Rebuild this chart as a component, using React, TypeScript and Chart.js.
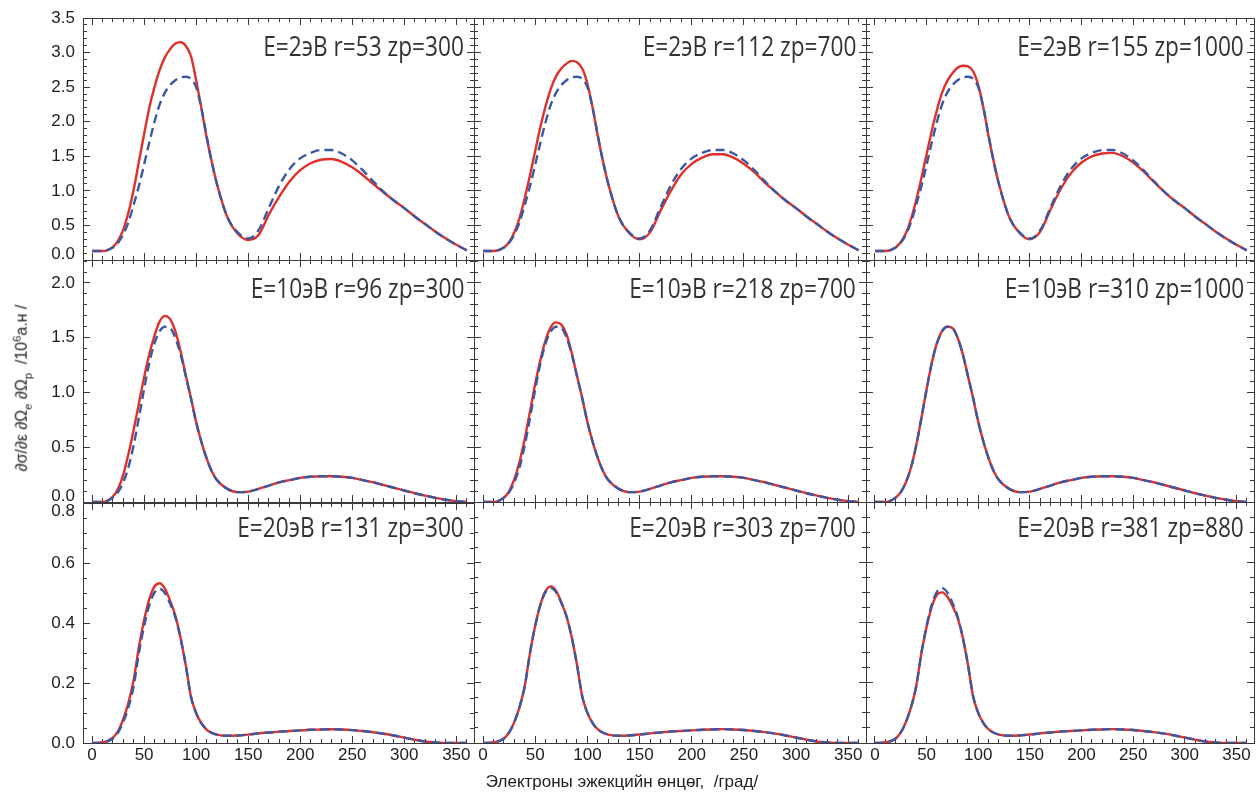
import React, { useEffect, useRef } from "react";
import { Chart, registerables } from "chart.js";

Chart.register(...registerables);

// ---------------- DATA ----------------
const angles = [0, 10, 20, 25, 30, 35, 40, 45, 50, 55, 60, 65, 70, 75, 80, 85, 90, 95, 100, 105, 110, 115, 120, 130, 140, 150, 160, 170, 180, 190, 200, 210, 220, 230, 240, 250, 260, 270, 280, 290, 300, 310, 320, 330, 340, 350, 360];

// Row 1: E = 2 эВ (blue dashed is common to the row)
const blueE2 = [0.13, 0.13, 0.18, 0.25, 0.37, 0.55, 0.8, 1.07, 1.38, 1.7, 2.0, 2.25, 2.42, 2.53, 2.6, 2.64, 2.65, 2.62, 2.5, 2.2, 1.8, 1.42, 1.1, 0.62, 0.4, 0.31, 0.43, 0.76, 1.08, 1.32, 1.47, 1.55, 1.59, 1.59, 1.54, 1.44, 1.3, 1.14, 0.99, 0.86, 0.75, 0.63, 0.52, 0.41, 0.31, 0.22, 0.14];
const redE2r53 = [0.13, 0.13, 0.19, 0.28, 0.44, 0.69, 1.02, 1.42, 1.82, 2.2, 2.5, 2.75, 2.93, 3.05, 3.13, 3.15, 3.1, 2.95, 2.6, 2.2, 1.78, 1.42, 1.1, 0.62, 0.38, 0.29, 0.36, 0.66, 0.92, 1.14, 1.3, 1.4, 1.45, 1.46, 1.42, 1.34, 1.23, 1.1, 0.98, 0.86, 0.75, 0.63, 0.52, 0.41, 0.31, 0.22, 0.14];
const redE2r112 = [0.13, 0.13, 0.18, 0.26, 0.4, 0.61, 0.9, 1.23, 1.58, 1.93, 2.23, 2.48, 2.66, 2.77, 2.84, 2.88, 2.86, 2.77, 2.55, 2.2, 1.79, 1.42, 1.1, 0.62, 0.39, 0.3, 0.4, 0.71, 1.0, 1.24, 1.39, 1.48, 1.53, 1.53, 1.48, 1.39, 1.27, 1.12, 0.99, 0.86, 0.75, 0.63, 0.52, 0.41, 0.31, 0.22, 0.14];
const redE2r155 = [0.13, 0.13, 0.18, 0.26, 0.39, 0.6, 0.87, 1.19, 1.53, 1.87, 2.17, 2.42, 2.59, 2.7, 2.78, 2.81, 2.8, 2.73, 2.53, 2.2, 1.79, 1.42, 1.1, 0.62, 0.39, 0.3, 0.41, 0.73, 1.03, 1.26, 1.41, 1.5, 1.54, 1.55, 1.5, 1.41, 1.28, 1.13, 0.99, 0.86, 0.75, 0.63, 0.52, 0.41, 0.31, 0.22, 0.14];

// Row 2: E = 10 эВ
const blueE10 = [0.0, 0.0, 0.04, 0.09, 0.18, 0.32, 0.52, 0.77, 1.03, 1.27, 1.45, 1.56, 1.6, 1.59, 1.5, 1.35, 1.15, 0.95, 0.73, 0.55, 0.4, 0.28, 0.2, 0.12, 0.09, 0.095, 0.12, 0.15, 0.18, 0.2, 0.22, 0.23, 0.235, 0.235, 0.23, 0.22, 0.2, 0.18, 0.155, 0.13, 0.105, 0.08, 0.058, 0.038, 0.02, 0.008, 0.0];
const redE10r96 = [0.0, 0.0, 0.05, 0.12, 0.25, 0.44, 0.66, 0.9, 1.14, 1.35, 1.52, 1.65, 1.7, 1.67, 1.56, 1.38, 1.16, 0.95, 0.73, 0.55, 0.4, 0.28, 0.2, 0.12, 0.09, 0.095, 0.12, 0.15, 0.18, 0.2, 0.22, 0.23, 0.235, 0.235, 0.23, 0.22, 0.2, 0.18, 0.155, 0.13, 0.105, 0.08, 0.058, 0.038, 0.02, 0.008, 0.0];
const redE10r218 = [0.0, 0.0, 0.04, 0.1, 0.21, 0.37, 0.58, 0.83, 1.08, 1.3, 1.48, 1.6, 1.64, 1.62, 1.53, 1.36, 1.15, 0.95, 0.73, 0.55, 0.4, 0.28, 0.2, 0.12, 0.09, 0.095, 0.12, 0.15, 0.18, 0.2, 0.22, 0.23, 0.235, 0.235, 0.23, 0.22, 0.2, 0.18, 0.155, 0.13, 0.105, 0.08, 0.058, 0.038, 0.02, 0.008, 0.0];
const redE10r310 = [0.0, 0.0, 0.04, 0.09, 0.18, 0.32, 0.52, 0.77, 1.03, 1.27, 1.45, 1.56, 1.6, 1.59, 1.5, 1.35, 1.15, 0.95, 0.73, 0.55, 0.4, 0.28, 0.2, 0.12, 0.09, 0.095, 0.12, 0.15, 0.18, 0.2, 0.22, 0.23, 0.235, 0.235, 0.23, 0.22, 0.2, 0.18, 0.155, 0.13, 0.105, 0.08, 0.058, 0.038, 0.02, 0.008, 0.0];

// Row 3: E = 20 эВ
const blueE20 = [0.0, 0.002, 0.015, 0.035, 0.07, 0.12, 0.19, 0.3, 0.39, 0.46, 0.502, 0.514, 0.5, 0.465, 0.42, 0.35, 0.26, 0.155, 0.1, 0.066, 0.045, 0.034, 0.028, 0.024, 0.025, 0.028, 0.032, 0.035, 0.038, 0.04, 0.042, 0.044, 0.045, 0.046, 0.045, 0.043, 0.04, 0.036, 0.031, 0.025, 0.018, 0.011, 0.005, 0.002, 0.0, 0.0, 0.0];
const redE20r131 = [0.0, 0.002, 0.018, 0.04, 0.08, 0.135, 0.21, 0.32, 0.41, 0.48, 0.522, 0.533, 0.515, 0.475, 0.425, 0.352, 0.26, 0.155, 0.1, 0.066, 0.045, 0.034, 0.028, 0.024, 0.025, 0.028, 0.032, 0.035, 0.038, 0.04, 0.042, 0.044, 0.045, 0.046, 0.045, 0.043, 0.04, 0.036, 0.031, 0.025, 0.018, 0.011, 0.005, 0.002, 0.0, 0.0, 0.0];
const redE20r303 = [0.0, 0.002, 0.015, 0.035, 0.07, 0.12, 0.19, 0.3, 0.39, 0.46, 0.505, 0.52, 0.505, 0.467, 0.42, 0.35, 0.26, 0.155, 0.1, 0.066, 0.045, 0.034, 0.028, 0.024, 0.025, 0.028, 0.032, 0.035, 0.038, 0.04, 0.042, 0.044, 0.045, 0.046, 0.045, 0.043, 0.04, 0.036, 0.031, 0.025, 0.018, 0.011, 0.005, 0.002, 0.0, 0.0, 0.0];
const redE20r381 = [0.0, 0.002, 0.015, 0.035, 0.07, 0.12, 0.19, 0.3, 0.385, 0.452, 0.492, 0.5, 0.486, 0.455, 0.415, 0.35, 0.26, 0.155, 0.1, 0.066, 0.045, 0.034, 0.028, 0.024, 0.025, 0.028, 0.032, 0.035, 0.038, 0.04, 0.042, 0.044, 0.045, 0.046, 0.045, 0.043, 0.04, 0.036, 0.031, 0.025, 0.018, 0.011, 0.005, 0.002, 0.0, 0.0, 0.0];

const panelTitles = [
  "E=2эВ r=53 zp=300", "E=2эВ r=112 zp=700", "E=2эВ r=155 zp=1000",
  "E=10эВ r=96 zp=300", "E=10эВ r=218 zp=700", "E=10эВ r=310 zp=1000",
  "E=20эВ r=131 zp=300", "E=20эВ r=303 zp=700", "E=20эВ r=381 zp=880",
];
const redSeries = [redE2r53, redE2r112, redE2r155, redE10r96, redE10r218, redE10r310, redE20r131, redE20r303, redE20r381];
const blueSeries = [blueE2, blueE2, blueE2, blueE10, blueE10, blueE10, blueE20, blueE20, blueE20];

const rowYMax = [3.5, 2.21, 0.8];
const rowYMajor = [0.5, 0.5, 0.2];
const rowYMinor = [0.1, 0.1, 0.05];
const xMin = -8.7;
const xMax = 367;
const xMajor = 50;
const xMinor = 10;

const xAxisTitle = "Электроны эжекцийн өнцөг,  /град/";

// ---------------- LAYOUT ----------------
const colLeft = [83, 474, 866];
const colRight = [474, 866, 1254];
const rowTop = [18, 260, 502];
const rowBottom = [260, 502, 743];
const titleBaselineOffset = [38, 38, 35];

const PAD_L = 70, PAD_T = 30, PAD_R = 20, PAD_B = 40;
const Y_LABEL_W = 60; // box width reserved for left tick labels
const X_LABEL_H = 32; // box height reserved for bottom tick labels
const FRAME = "#3a3a3a";
const RED = "#e0302a";
const BLUE = "#3b58a4";
const TICK_FAMILY = "'Liberation Sans', Arial, sans-serif";
const TICK_SIZE = 17;

function Panel({ idx }: { idx: number }) {
  const ref = useRef<HTMLCanvasElement | null>(null);
  const row = Math.floor(idx / 3);
  const col = idx % 3;
  const w = colRight[col] - colLeft[col] + PAD_L + PAD_R;
  const h = rowBottom[row] - rowTop[row] + PAD_T + PAD_B;
  useEffect(() => {
    if (!ref.current) return;
    const showX = row === 2;
    const showY = col === 0;
    const yMax = rowYMax[row];
    // labels at a panel joint are nudged apart (as in the original figure)
    const nudgeUp = (v: number) => !(row === 2) && Math.abs(v) < 1e-9;
    const nudgeDown = (v: number) => row === 2 && Math.abs(v - yMax) < 1e-9;
    const yLabel = (v: any) => {
      const n = Number(v);
      const s = n.toFixed(1);
      if (nudgeUp(n)) return [s, ""];
      if (nudgeDown(n)) return ["", s];
      return s;
    };
    const yFont = (ctx: any) => {
      const n = ctx && ctx.tick ? Number(ctx.tick.value) : NaN;
      let lh = 1.2;
      if (nudgeUp(n)) lh = 0.62;
      else if (nudgeDown(n)) lh = 0.95;
      return { family: TICK_FAMILY, size: TICK_SIZE, lineHeight: lh };
    };
    const major = (pos: string, isX: boolean, show: boolean, size: number) => ({
      type: "linear" as const,
      position: pos,
      weight: 1,
      min: isX ? xMin : 0,
      max: isX ? xMax : yMax,
      afterFit: (s: any) => {
        if (isX) s.height = size;
        else s.width = size;
      },
      grid: { drawOnChartArea: false, drawTicks: true, tickLength: -7, tickColor: FRAME, tickWidth: 1 },
      border: { display: true, color: FRAME, width: 1 },
      ticks: {
        stepSize: isX ? xMajor : rowYMajor[row],
        includeBounds: false,
        autoSkip: false,
        maxRotation: 0,
        minRotation: 0,
        display: show,
        padding: isX ? 9 : 15,
        color: "#1e1e1e",
        font: isX ? { family: TICK_FAMILY, size: TICK_SIZE } : yFont,
        callback: (v: any) => (isX ? String(Math.round(Number(v))) : yLabel(v)),
      },
    });
    const minor = (pos: string, isX: boolean) => ({
      type: "linear" as const,
      position: pos,
      weight: 0,
      min: isX ? xMin : 0,
      max: isX ? xMax : yMax,
      afterFit: (s: any) => {
        if (isX) s.height = 0;
        else s.width = 0;
      },
      grid: { drawOnChartArea: false, drawTicks: true, tickLength: -4, tickColor: FRAME, tickWidth: 1 },
      border: { display: false },
      ticks: {
        stepSize: isX ? xMinor : rowYMinor[row],
        includeBounds: false,
        autoSkip: false,
        display: false,
      },
    });
    const chart = new Chart(ref.current, {
      type: "line",
      data: {
        labels: angles,
        datasets: [
          {
            label: "dashed",
            data: angles.map((a, i) => ({ x: a, y: blueSeries[idx][i] })),
            borderColor: BLUE,
            borderWidth: 2.4,
            borderDash: [9, 5],
            pointRadius: 0,
            cubicInterpolationMode: "monotone",
            fill: false,
            order: 1,
          },
          {
            label: "solid",
            data: angles.map((a, i) => ({ x: a, y: redSeries[idx][i] })),
            borderColor: RED,
            borderWidth: 2.4,
            pointRadius: 0,
            cubicInterpolationMode: "monotone",
            fill: false,
            order: 2,
          },
        ],
      },
      options: {
        animation: false,
        responsive: false,
        devicePixelRatio: 1,
        parsing: false as any,
        layout: {
          padding: { left: PAD_L - Y_LABEL_W, top: PAD_T, right: PAD_R, bottom: PAD_B - X_LABEL_H },
        },
        plugins: { legend: { display: false }, tooltip: { enabled: false }, title: { display: false } },
        events: [],
        scales: {
          x: major("bottom", true, showX, X_LABEL_H),
          xMinorB: minor("bottom", true),
          xTop: major("top", true, false, 0),
          xMinorT: minor("top", true),
          y: major("left", false, showY, Y_LABEL_W),
          yMinorL: minor("left", false),
          yRight: major("right", false, false, 0),
          yMinorR: minor("right", false),
        } as any,
      },
    } as any);
    return () => chart.destroy();
  }, []);
  return (
    <canvas
      ref={ref}
      width={w}
      height={h}
      style={{ position: "absolute", left: colLeft[col] - PAD_L, top: rowTop[row] - PAD_T, width: w, height: h }}
    />
  );
}

export default function App() {
  return (
    <div style={{ position: "absolute", left: 0, top: 0, width: 1258, height: 794, background: "#fff", overflow: "hidden" }}>
      {panelTitles.map((_, i) => (
        <Panel key={"p" + i} idx={i} />
      ))}
      {panelTitles.map((t, i) => {
        const row = Math.floor(i / 3);
        const col = i % 3;
        return (
          <div
            key={"t" + i}
            style={{
              position: "absolute",
              right: 1258 - (colRight[col] - 10),
              top: rowTop[row] + titleBaselineOffset[row] - 24,
              fontFamily: "'Open Sans', sans-serif",
              fontSize: 27,
              lineHeight: "27px",
              color: "#333",
              whiteSpace: "nowrap",
              transform: "scaleX(0.84)",
              transformOrigin: "100% 50%",
            }}
          >
            {t}
          </div>
        );
      })}
      <div
        style={{
          position: "absolute",
          left: 22,
          top: 388,
          transform: "translate(-50%, -50%) rotate(-90deg)",
          fontFamily: "'Liberation Sans', Arial, sans-serif",
          fontSize: 16,
          color: "#222",
          whiteSpace: "pre",
          lineHeight: "20px",
        }}
      >
        ∂σ/∂ε ∂Ω<sub style={{ fontSize: "0.7em" }}>e</sub> ∂Ω<sub style={{ fontSize: "0.7em" }}>p</sub>  /10<sup style={{ fontSize: "0.7em" }}>6</sup>а.н /
      </div>
      <div
        style={{
          position: "absolute",
          left: 622,
          top: 782,
          transform: "translate(-50%, -50%)",
          fontFamily: "'Liberation Sans', Arial, sans-serif",
          fontSize: 17,
          color: "#222",
          whiteSpace: "pre",
          lineHeight: "20px",
        }}
      >
        {xAxisTitle}
      </div>
    </div>
  );
}
